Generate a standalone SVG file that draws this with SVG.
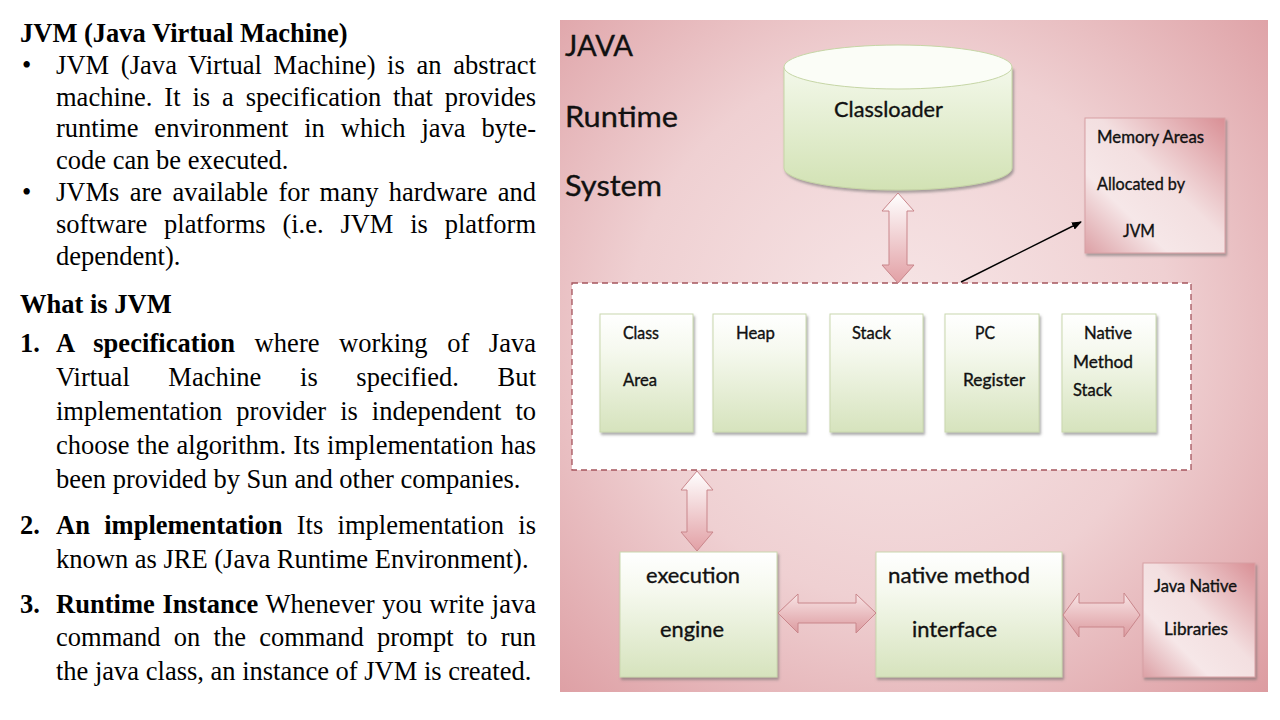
<svg xmlns="http://www.w3.org/2000/svg" width="1280" height="720" viewBox="0 0 1280 720">
<defs>
<style>
.t{font-family:"Liberation Serif","Times New Roman",serif;font-size:26.5px;fill:#000}
.b{font-weight:bold}
.d{font-family:Lato,"Open Sans","Liberation Sans",sans-serif;fill:#111;stroke:#111;stroke-width:0.35}
.lbl{font-size:16.5px}
.big{font-size:22px}
.side{font-size:29px}
.gbox{fill:url(#green);stroke:#cad8ae;stroke-width:1;filter:url(#sh)}
.pbox{fill:url(#pink);stroke:#d8a0a4;stroke-width:1;filter:url(#sh)}
.arr{stroke:#c9868b;stroke-width:1}
</style>
<radialGradient id="bg" gradientUnits="userSpaceOnUse" cx="900" cy="330" r="600">
<stop offset="0" stop-color="#f7e6e7"/>
<stop offset="0.45" stop-color="#efd0d2"/>
<stop offset="1" stop-color="#d68a90"/>
</radialGradient>
<linearGradient id="green" x1="0" y1="0" x2="0" y2="1">
<stop offset="0" stop-color="#ffffff"/>
<stop offset="0.3" stop-color="#f6f9ef"/>
<stop offset="1" stop-color="#d6e3bd"/>
</linearGradient>
<linearGradient id="cyl" x1="0" y1="0" x2="0" y2="1">
<stop offset="0" stop-color="#f3f8ea"/>
<stop offset="1" stop-color="#d2e2b4"/>
</linearGradient>
<linearGradient id="pink" x1="1" y1="0" x2="0" y2="1">
<stop offset="0" stop-color="#d98f95"/>
<stop offset="0.45" stop-color="#f3dfe0"/>
<stop offset="0.7" stop-color="#f6e7e8"/>
<stop offset="1" stop-color="#dca0a5"/>
</linearGradient>
<linearGradient id="av" x1="0" y1="0" x2="0" y2="1">
<stop offset="0" stop-color="#ffffff"/>
<stop offset="1" stop-color="#e2a0a5"/>
</linearGradient>
<linearGradient id="ah" x1="0" y1="0" x2="0" y2="1">
<stop offset="0" stop-color="#f8e4e5"/>
<stop offset="1" stop-color="#dc9a9f"/>
</linearGradient>
<filter id="sh" x="-10%" y="-10%" width="125%" height="125%">
<feDropShadow dx="1.5" dy="2.5" stdDeviation="1.2" flood-color="#6b6b6b" flood-opacity="0.55"/>
</filter>
<marker id="ah1" markerWidth="10" markerHeight="8" refX="9" refY="4" orient="auto" markerUnits="userSpaceOnUse">
<path d="M0,0 L10,4 L0,8 Z" fill="#000"/>
</marker>
</defs>
<rect width="1280" height="720" fill="#ffffff"/>

<g id="left-text">
<text class="t b" x="20" y="42">JVM (Java Virtual Machine)</text>
<text class="t" x="22" y="74">•</text>
<text class="t" x="56" y="74" word-spacing="4.9" textLength="480" lengthAdjust="spacing">JVM (Java Virtual Machine) is an abstract</text>
<text class="t" x="56" y="106" word-spacing="5.3" textLength="480" lengthAdjust="spacing">machine. It is a specification that provides</text>
<text class="t" x="56" y="137" word-spacing="9.3" textLength="480" lengthAdjust="spacing">runtime environment in which java byte-</text>
<text class="t" x="56" y="169">code can be executed.</text>
<text class="t" x="22" y="201">•</text>
<text class="t" x="56" y="201" word-spacing="3.7" textLength="480" lengthAdjust="spacing">JVMs are available for many hardware and</text>
<text class="t" x="56" y="233" word-spacing="10.2" textLength="480" lengthAdjust="spacing">software platforms (i.e. JVM is platform</text>
<text class="t" x="56" y="265">dependent).</text>
<text class="t b" x="20" y="313">What is JVM</text>
<text class="t b" x="20" y="352">1.</text>
<text class="t" x="56" y="352" word-spacing="12.8" textLength="480" lengthAdjust="spacing"><tspan class="b">A specification</tspan> where working of Java</text>
<text class="t" x="56" y="386" word-spacing="31.9" textLength="480" lengthAdjust="spacing">Virtual Machine is specified. But</text>
<text class="t" x="56" y="420" word-spacing="7.4" textLength="480" lengthAdjust="spacing">implementation provider is independent to</text>
<text class="t" x="56" y="454" word-spacing="0.6" textLength="480" lengthAdjust="spacing">choose the algorithm. Its implementation has</text>
<text class="t" x="56" y="488">been provided by Sun and other companies.</text>
<text class="t b" x="20" y="534">2.</text>
<text class="t" x="56" y="534" word-spacing="7.7" textLength="480" lengthAdjust="spacing"><tspan class="b">An implementation</tspan> Its implementation is</text>
<text class="t" x="56" y="568">known as JRE (Java Runtime Environment).</text>
<text class="t b" x="20" y="613">3.</text>
<text class="t" x="56" y="613" word-spacing="1" textLength="480" lengthAdjust="spacing"><tspan class="b">Runtime Instance</tspan> Whenever you write java</text>
<text class="t" x="56" y="646" word-spacing="6.6" textLength="480" lengthAdjust="spacing">command on the command prompt to run</text>
<text class="t" x="56" y="680">the java class, an instance of JVM is created.</text>
</g>

<g id="background">
<rect x="560" y="20" width="708" height="672" fill="url(#bg)"/>
<text class="d side" x="565" y="56" textLength="68" lengthAdjust="spacingAndGlyphs">JAVA</text>
<text class="d side" x="565" y="127" textLength="113" lengthAdjust="spacingAndGlyphs">Runtime</text>
<text class="d side" x="565" y="196" textLength="97" lengthAdjust="spacingAndGlyphs">System</text>
</g>

<g id="classloader">
<path d="M784,67 L784,168 A114,22 0 0 0 1012,168 L1012,67 Z" fill="url(#cyl)" stroke="#c6d6a6" stroke-width="1" filter="url(#sh)"/>
<ellipse cx="898" cy="67" rx="114" ry="22" fill="#fbfdf7" stroke="#c6d6a6" stroke-width="1"/>
<text class="d big" x="834" y="117" textLength="109" lengthAdjust="spacingAndGlyphs">Classloader</text>
</g>

<g id="memory-areas">
<rect class="pbox" x="1085" y="118" width="140" height="135"/>
<text class="d lbl" x="1097" y="143" textLength="107" lengthAdjust="spacingAndGlyphs">Memory Areas</text>
<text class="d lbl" x="1097" y="190" textLength="88" lengthAdjust="spacingAndGlyphs">Allocated by</text>
<text class="d lbl" x="1123" y="237" textLength="32" lengthAdjust="spacingAndGlyphs">JVM</text>
</g>

<g id="runtime-data-areas">
<rect x="572" y="283" width="619" height="187" fill="#ffffff" stroke="#a5555e" stroke-width="1.3" stroke-dasharray="6 4"/>
</g>

<g id="class-area">
<rect class="gbox" x="600" y="314" width="93" height="118"/>
<text class="d lbl" x="623" y="339" textLength="36" lengthAdjust="spacingAndGlyphs">Class</text>
<text class="d lbl" x="623" y="386" textLength="34" lengthAdjust="spacingAndGlyphs">Area</text>
</g>
<g id="heap">
<rect class="gbox" x="713" y="314" width="93" height="118"/>
<text class="d lbl" x="736" y="339" textLength="39" lengthAdjust="spacingAndGlyphs">Heap</text>
</g>
<g id="stack">
<rect class="gbox" x="830" y="314" width="93" height="118"/>
<text class="d lbl" x="852" y="339" textLength="39" lengthAdjust="spacingAndGlyphs">Stack</text>
</g>
<g id="pc-register">
<rect class="gbox" x="945" y="314" width="94" height="118"/>
<text class="d lbl" x="975" y="339" textLength="20" lengthAdjust="spacingAndGlyphs">PC</text>
<text class="d lbl" x="963" y="386" textLength="62" lengthAdjust="spacingAndGlyphs">Register</text>
</g>
<g id="native-method-stack">
<rect class="gbox" x="1062" y="314" width="94" height="118"/>
<text class="d lbl" x="1084" y="339" textLength="48" lengthAdjust="spacingAndGlyphs">Native</text>
<text class="d lbl" x="1073" y="368" textLength="60" lengthAdjust="spacingAndGlyphs">Method</text>
<text class="d lbl" x="1073" y="396" textLength="39" lengthAdjust="spacingAndGlyphs">Stack</text>
</g>

<g id="execution-engine">
<rect class="gbox" x="620" y="552" width="157" height="125"/>
<text class="d big" x="646" y="583" textLength="94" lengthAdjust="spacingAndGlyphs">execution</text>
<text class="d big" x="660" y="637" textLength="64" lengthAdjust="spacingAndGlyphs">engine</text>
</g>
<g id="native-method-interface">
<rect class="gbox" x="876" y="552" width="186" height="125"/>
<text class="d big" x="888" y="583" textLength="142" lengthAdjust="spacingAndGlyphs">native method</text>
<text class="d big" x="912" y="637" textLength="85" lengthAdjust="spacingAndGlyphs">interface</text>
</g>
<g id="java-native-libraries">
<rect class="pbox" x="1143" y="563" width="112" height="114"/>
<text class="d lbl" x="1154" y="592" textLength="83" lengthAdjust="spacingAndGlyphs">Java Native</text>
<text class="d lbl" x="1164" y="635" textLength="64" lengthAdjust="spacingAndGlyphs">Libraries</text>
</g>

<g id="connectors">
<path class="arr" fill="url(#av)" d="M898,193 L914,211 L907,211 L907,265 L914,265 L898,283 L882,265 L889,265 L889,211 L882,211 Z"/>
<path class="arr" fill="url(#av)" d="M697,471 L713,490 L707,490 L707,532 L713,532 L697,551 L681,532 L687,532 L687,490 L681,490 Z"/>
<path class="arr" fill="url(#ah)" d="M778,613 L798,594 L798,603 L856,603 L856,594 L876,613 L856,633 L856,623 L798,623 L798,633 Z"/>
<path class="arr" fill="url(#ah)" d="M1063,615 L1079,593 L1079,603 L1124,603 L1124,593 L1140,615 L1124,637 L1124,627 L1079,627 L1079,637 Z"/>
<line x1="961" y1="282" x2="1081" y2="222" stroke="#000" stroke-width="1.5" marker-end="url(#ah1)"/>
</g>
</svg>
